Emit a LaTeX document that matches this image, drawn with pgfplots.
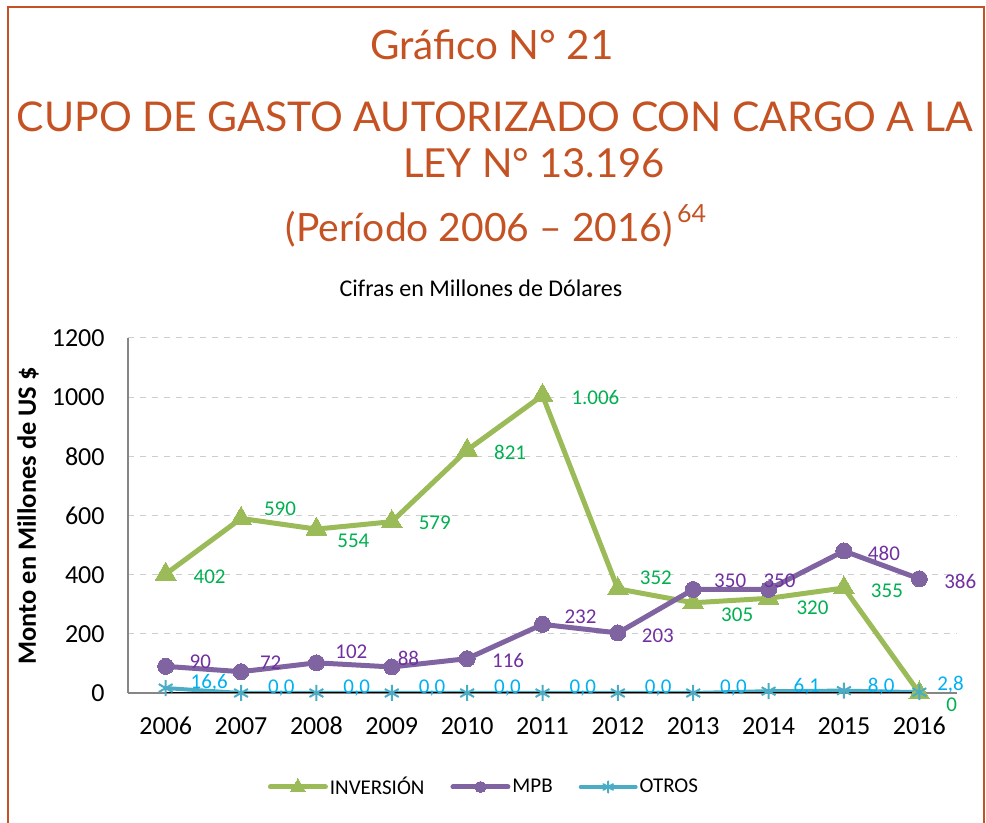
\documentclass[border=0pt]{standalone}
\usepackage{pgfplots}
\pgfplotsset{compat=1.18}
\usepackage{fontspec}
\setmainfont{Carlito}
\newfontfamily\titlefont{Lato}
\definecolor{titlec}{RGB}{197,82,34}
\definecolor{inv}{RGB}{155,187,89}
\definecolor{mpb}{RGB}{128,100,162}
\definecolor{otr}{RGB}{75,172,198}
\definecolor{invlab}{RGB}{0,176,80}
\definecolor{mpblab}{RGB}{112,48,160}
\definecolor{otrlab}{RGB}{0,176,240}
\definecolor{axgray}{RGB}{134,134,134}
\definecolor{gridc}{RGB}{205,205,205}
\pgfplotstableread[row sep=\\]{
x y dx dy lab\\
0 402 14 -1.5 402\\
1 590 11.5 5 590\\
2 554 10.5 -6 554\\
3 579 13.5 -0.5 579\\
4 821 13.5 -1 821\\
5 1006 14.5 -1 1.006\\
6 352 11 5.5 352\\
7 305 14 -6 305\\
8 320 14 -4.5 320\\
9 355 13.5 -1.5 355\\
10 0 13.5 -6 0\\
}\inversion
\pgfplotstableread[row sep=\\]{
x y dx dy lab\\
0 90 12 2.5 90\\
1 72 9.5 4.5 72\\
2 102 9.5 5.5 102\\
3 88 3 4.5 88\\
4 116 12.5 -1 116\\
5 232 11 4 232\\
6 203 12 -1.5 203\\
7 350 10.5 4.5 350\\
8 350 -2.5 4.5 350\\
9 480 12 -1 480\\
10 386 12.5 -1.5 386\\
}\mpbdata
\pgfplotstableread[row sep=\\]{
x y dx dy lab\\
0 16.6 12 2.5 16,6\\
1 0 13 2.5 0,0\\
2 0 13 2.5 0,0\\
3 0 13 2.5 0,0\\
4 0 13 2.5 0,0\\
5 0 13 2.5 0,0\\
6 0 13 2.5 0,0\\
7 0 13 2.5 0,0\\
8 6.1 12 2 6,1\\
9 8.0 11.5 2 8,0\\
10 2.8 8.5 3.5 2,8\\
}\otros
\pgfplotsset{
  mylabels/.style={
    point meta=explicit symbolic,
    nodes near coords,
    visualization depends on={\thisrow{dx}\as\dx},
    visualization depends on={\thisrow{dy}\as\dy},
    nodes near coords style={anchor=west, inner sep=0pt, xshift=\dx pt, yshift=\dy pt, font=\fontsize{10.5}{12}\selectfont, text=#1},
  }
}
\begin{document}
\begin{tikzpicture}
\path[use as bounding box] (0,0) rectangle (493pt,411.5pt);
\draw[titlec, line width=1.25pt] (4pt,-1pt) -- (4pt,408pt) -- (492pt,408pt) -- (492pt,-1pt);
\node[titlec, font=\titlefont\fontsize{20.2}{24}\selectfont] at (246pt,389pt) {Gráfico N° 21};
\node[titlec, font=\titlefont\fontsize{20.5}{24}\selectfont] at (247.5pt,353pt) {CUPO DE GASTO AUTORIZADO CON CARGO A LA};
\node[titlec, font=\titlefont\fontsize{20}{24}\selectfont] at (267pt,330pt) {LEY N° 13.196};
\node[titlec, font=\titlefont\fontsize{19.5}{23}\selectfont] at (248pt,298.5pt) {(Período 2006 – 2016)\raisebox{0.5em}{\fontsize{12.5}{13}\selectfont\,64}};
\node[font=\fontsize{12}{14}\selectfont] at (240.5pt,267.5pt) {Cifras en Millones de Dólares};
\begin{axis}[
  at={(64pt,65pt)}, anchor=south west,
  scale only axis, width=414.5pt, height=177.5pt,
  xmin=-0.5, xmax=10.5, ymin=0, ymax=1200,
  xtick={0,1,...,10},
  xticklabels={2006,2007,2008,2009,2010,2011,2012,2013,2014,2015,2016},
  ytick={0,200,...,1200},
  axis x line*=bottom, axis y line*=left,
  axis line style={axgray, line width=1pt},
  ymajorgrids, grid style={gridc, dashed, line width=0.5pt},
  major tick length=0pt,
  tick label style={font=\fontsize{13}{15}\selectfont},
  /pgf/number format/assume math mode=true,
  /pgf/number format/1000 sep={},
  xticklabel style={yshift=-8.6pt, text height=8.5pt, text depth=0pt},
  yticklabel style={xshift=-8.2pt},
  ylabel={\bfseries Monto en Millones de US \$},
  ylabel style={at={(axis description cs:-0.1206,0.4986)}, anchor=center, font=\fontsize{13.2}{15}\selectfont},
  legend style={at={(axis description cs:0.4294,-0.2648)}, anchor=center, draw=none, fill=none,
    legend columns=3, font=\fontsize{10.5}{12}\selectfont,
    /tikz/every even column/.append style={column sep=12pt},
    nodes={inner xsep=1pt}},
  legend cell align=left,
  legend image code/.code={\draw[mark repeat=2,mark phase=2,line cap=round,#1] plot coordinates {(0pt,0pt) (13.75pt,0pt) (27.5pt,0pt)};},
  legend image post style={/tikz/every mark/.append style={scale=0.7}},
]
\addplot[inv, line width=2.5pt, mark=triangle*, mark size=6pt, mark options={fill=inv, draw=inv, line width=0pt},
  mylabels=invlab] table[x=x,y=y,meta=lab] {\inversion};
\addlegendentry{INVERSIÓN}
\addplot[mpb, line width=2.5pt, mark=*, mark size=4pt, mark options={fill=mpb, draw=mpb, line width=0pt},
  mylabels=mpblab] table[x=x,y=y,meta=lab] {\mpbdata};
\addlegendentry{MPB}
\addplot[otr, line width=2pt, mark=asterisk, mark size=4pt, mark options={draw=otr, line width=1pt},
  mylabels=otrlab] table[x=x,y=y,meta=lab] {\otros};
\addlegendentry{OTROS}
\addplot[black, line width=0.9pt, forget plot, no marks] coordinates {(0,0) (1,0) (2,0) (3,0) (4,0) (5,0) (6,0) (7,0) (8,0) (9,0) (10,0)};
\end{axis}
\end{tikzpicture}
\end{document}
